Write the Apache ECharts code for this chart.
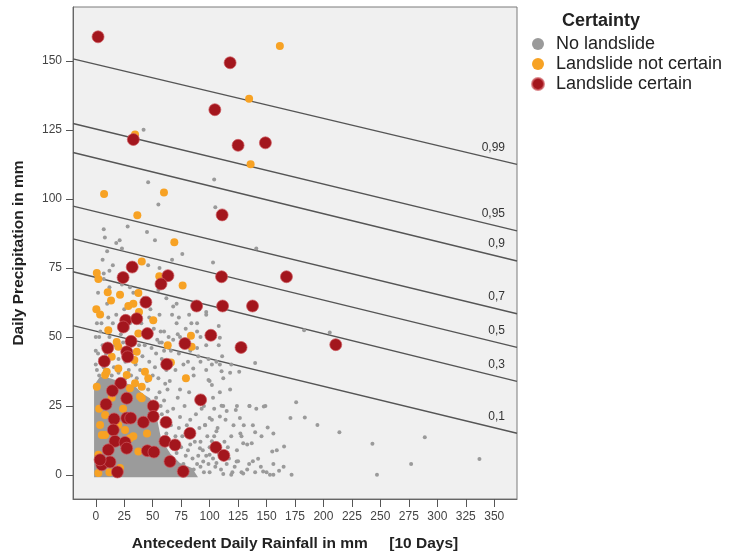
<!DOCTYPE html>
<html>
<head>
<meta charset="utf-8">
<script src="https://cdn.jsdelivr.net/npm/echarts@6/dist/echarts.min.js"></script>
<style>
  html, body { margin: 0; padding: 0; background: #fff; }
  #chart { width: 739px; height: 557px; }
</style>
</head>
<body>
<div id="chart"></div>
<script>
// 刻度
var xTicks = [0, 25, 50, 75, 100, 125, 150, 175, 200, 225, 250, 275, 300, 325, 350];
var yTicks = [0, 25, 50, 75, 100, 125, 150];

// 概率线 (x 从 -20 到 370)
var levels = ['0,99', '0,95', '0,9', '0,7', '0,5', '0,3', '0,1'];
var lineX = [-20, 370];
var lineStartY = [150.7, 127.3, 116.8, 97.4, 85.5, 73.6, 54.1];
var lineEndY = [112.5, 88.4, 77.5, 58.4, 46.2, 33.9, 15.1];

// 密集区轮廓 (No landslide)
var denseOutline = [
    [-1.5, -0.8], [-1.5, 32.5], [3.8, 35.7], [12.5, 35], [21.3, 33.9], [34.5, 32.1],
    [40.6, 29.6], [47.6, 27.8], [52, 24.2], [54.6, 18.8], [57.3, 13.3], [65.2, 7.9],
    [73.9, 4.3], [84.5, 2.5], [89.8, -0.8]
];

// No landslide 散点
var noLandslide = [
    [42, 125], [46, 106], [55, 98], [104, 107], [105, 97], [141, 82], [7, 89], [8, 86], [18, 84],
    [21, 85], [28, 90], [45, 88], [52, 85], [76, 80], [67, 78], [103, 77], [6, 78], [15, 76],
    [46, 76], [56, 75], [7, 73], [12, 74], [23, 82], [10, 81],
    [7, 71], [23, 69], [30, 68], [33, 66], [55, 67], [62, 64], [68, 61], [67, 58], [56, 58],
    [73, 57], [82, 58], [97, 58], [108, 54], [84, 55], [89, 52], [72, 51], [60, 52], [68, 49],
    [54, 49], [58, 48], [75, 48], [89, 46], [108, 47], [73, 44], [90, 43], [81, 41], [102, 40],
    [111, 43], [119, 40], [71, 62], [97, 59], [89, 55], [92, 50], [74, 50], [56, 48], [99, 42],
    [109, 40], [92, 41], [97, 38], [86, 36], [100, 34], [112, 35], [118, 31], [109, 30], [103, 28],
    [74, 31], [65, 34], [124, 25], [112, 25], [135, 25], [149, 25], [130, 18], [138, 18], [127, 15],
    [156, 15], [159, 9], [124, 9], [133, 11], [138, 5], [133, 2], [97, 7], [89, 4], [83, 11],
    [68, 24], [74, 21],
    [2, 60], [5, 55], [3, 50], [6, 47], [9, 44], [4, 42], [12, 50], [15, 55], [16, 39], [20, 42],
    [24, 48], [29, 38], [32, 44], [35, 40], [38, 47], [41, 43], [44, 38], [47, 41], [50, 36],
    [53, 44], [1, 38], [8, 36], [14, 36], [26, 35], [36, 35], [45, 34], [18, 58], [10, 62],
    [30, 55], [40, 55], [47, 57], [25, 60], [2, 66], [12, 68], [42, 64], [48, 60], [51, 53],
    [58, 42], [62, 38], [66, 45],
    [56, 30], [60, 27], [63, 23], [66, 18], [70, 14], [75, 10], [79, 7], [85, 6], [92, 3], [95, 1],
    [100, 1], [105, 3], [110, 2], [115, 4], [120, 1], [58, 22], [62, 15], [68, 10], [72, 28],
    [78, 25], [80, 18], [85, 15], [88, 22], [92, 12], [96, 18], [100, 10], [104, 14], [108, 8],
    [113, 12], [117, 6], [122, 3], [61, 33], [82, 30], [90, 28], [95, 25], [102, 20], [107, 17],
    [114, 20], [119, 14], [125, 5], [128, 1], [140, 1], [145, 3], [150, 1], [156, 4], [165, 3],
    [70, 2], [80, 1], [60, 5], [64, 2],
    [109, 49.7], [140, 40.6], [183, 52.4], [205.5, 51.6], [97, 47], [106, 41], [110.5, 37.6],
    [118, 37], [126, 37.4], [99, 34.4], [176, 26.3], [135, 25], [141, 24], [147.6, 24.8],
    [123, 23.5], [115, 23.2], [126.6, 20.6], [171, 20.6], [183.6, 20.8], [194.7, 18.1],
    [151, 17.2], [140, 15.5], [145.6, 14], [128, 14], [214, 15.5], [129.5, 11.5], [137, 11.5],
    [165.4, 10.3], [155, 8.5], [289, 13.7], [243, 11.3], [142.6, 5.9], [123.7, 4.9], [134.7, 4],
    [277, 4], [337, 5.8], [147, 1.3], [153, 0.1], [156, 0.1], [161, 1.5], [172, 0.1], [247, 0.1],
    [112, 0.4], [119, 0.1], [129.5, 0.5], [102, 32.6], [85.6, 38.6], [94.4, 28.4], [110.5, 25.1],
    [109, 21.2], [100, 20.6], [96, 18.1], [102, 12.2], [106, 15.8], [100, 7.3], [94.4, 4.9],
    [106, 4.3], [91.5, 9.7],
    [53, 28], [57, 25], [59, 19], [61, 11], [63, 8], [66, 5], [69, 12], [71, 8], [73, 17], [76, 14],
    [77, 4], [81, 9], [83, 20], [86, 2], [87, 12], [90, 7], [91, 17], [93, 24], [94, 9], [98, 14],
    [99, 4], [103, 6], [104, 24], [107, 11], [111, 6], [116, 10], [121, 18], [0, 40], [0, 45],
    [0, 50], [1, 55], [3, 36], [2, 44], [4, 52], [7, 39], [10, 40], [11, 57], [13, 45], [17, 47],
    [20, 37], [22, 51], [26, 41], [28, 53], [31, 36], [34, 49], [39, 38], [43, 47], [46, 31],
    [49, 46], [52, 39], [55, 35], [57, 52], [60, 45], [63, 31], [64, 50], [70, 38], [71, 55],
    [77, 40], [79, 53], [83, 45]
];

// Landslide not certain
var notCertain = [
    [161.7, 155.4], [134.7, 136.3], [34.5, 123.3], [136, 112.5], [7.3, 101.8], [59.9, 102.3],
    [36.5, 94.1], [69, 84.3], [40.4, 77.3], [0.9, 73.2], [55.8, 72], [2.3, 71], [76.3, 68.6],
    [10.5, 66.2], [21.3, 65.3], [37.4, 65.9], [13.4, 63.2], [28.6, 61.2], [33, 62], [3.8, 58.1],
    [38, 59], [50.5, 56], [11, 52.4], [37.4, 51.2], [83.6, 50.4], [18.4, 48.2], [63.2, 47],
    [84.2, 46.4], [19.8, 46.4], [36, 44.6], [14, 42.8], [33.9, 41.6], [79.2, 35], [8.2, 36.2],
    [0.9, 32], [9.6, 37.4], [19.8, 38.6], [30, 31.4], [40.4, 32], [46.1, 35], [38.9, 28.4],
    [8.2, 21.7], [3.8, 18.1], [19.8, 18.1], [8.2, 14.5], [33, 14], [37.4, 8.5], [2.3, 7.3],
    [21.3, 2.5], [2.3, 0.7], [27.2, 36.2], [43.2, 37.4], [34.5, 33.2], [40.4, 27.8], [25.7, 16.3],
    [30, 13.3], [5.3, 14.5], [66, 40.7], [0.5, 60], [3, 24], [14, 28], [24, 24], [45, 15], [12, 1]
];

// Landslide certain
var certain = [
    [2, 158.7], [118, 149.3], [104.6, 132.3], [33, 121.5], [125, 119.4], [149, 120.3], [111, 94.2],
    [32, 75.3], [63.4, 72.2], [110.5, 71.8], [167.5, 71.8], [24, 71.5], [57.3, 69.2], [44, 62.6],
    [88.6, 61.2], [111.4, 61.2], [137.7, 61.2], [26.3, 56], [36, 56.6], [24.2, 53.6], [45.3, 51.2],
    [101.1, 50.6], [31, 48.4], [78.3, 47.6], [10.5, 46], [27.2, 44.6], [28, 42.8], [7.5, 41.2],
    [62.3, 40.1], [127.6, 46.2], [210.8, 47.2], [21.9, 33.2], [14.6, 30.5], [27.2, 27.8], [9, 25.6],
    [92.1, 27.2], [50.5, 25], [50.5, 21.2], [16.1, 20.3], [27.2, 20.6], [30.7, 20.6], [41.8, 19.1],
    [61.7, 19.1], [15.4, 16.3], [82.7, 15.1], [16.9, 12.2], [25.7, 11.8], [60.8, 12.2], [69.6, 10.9],
    [105.5, 10], [27.2, 9.7], [11, 9.1], [45.3, 8.8], [51.1, 8.3], [112.5, 7.1], [65.2, 4.9],
    [5.3, 3.7], [12.5, 4.7], [3.8, 5.5], [19, 1.1], [76.8, 1.3]
];

var series = [];

// 密集区
series.push({
    type: 'custom',
    data: denseOutline,
    silent: true,
    clip: true,
    z: 1,
    renderItem: function (params, api) {
        if (params.dataIndex !== 0) return null;
        var pts = denseOutline.map(function (p) { return api.coord(p); });
        return {
            type: 'polygon',
            shape: { points: pts },
            style: { fill: '#9b9b9b' }
        };
    }
});

// 概率线
levels.forEach(function (lv, i) {
    series.push({
        type: 'line',
        data: [[lineX[0], lineStartY[i]], [lineX[1], lineEndY[i]]],
        showSymbol: false,
        silent: true,
        z: 2,
        lineStyle: { color: '#555', width: 1.4 },
        endLabel: {
            show: true,
            formatter: lv,
            distance: 0,
            align: 'right',
            offset: [-12, -17],
            color: '#333',
            fontSize: 12,
            fontFamily: 'Liberation Sans'
        }
    });
});

series.push({
    name: 'No landslide',
    type: 'scatter',
    data: noLandslide,
    symbolSize: 4,
    z: 3,
    itemStyle: { color: '#9a9a9a', opacity: 1 }
});
series.push({
    name: 'Landslide not certain',
    type: 'scatter',
    data: notCertain,
    symbolSize: 8,
    z: 4,
    itemStyle: { color: '#f7a224', opacity: 1 }
});
series.push({
    name: 'Landslide certain',
    type: 'scatter',
    data: certain,
    symbolSize: 12,
    z: 5,
    itemStyle: { color: '#a3161d', borderColor: 'rgba(205,90,95,0.7)', borderWidth: 1, opacity: 1 }
});

var option = {
    animation: false,
    backgroundColor: '#fff',
    textStyle: { fontFamily: 'Liberation Sans' },
    title: {
        text: 'Certainty',
        left: 557,
        top: 7,
        textStyle: { fontSize: 18, fontWeight: 'bold', color: '#222', fontFamily: 'Liberation Sans' }
    },
    legend: {
        data: ['No landslide', 'Landslide not certain', 'Landslide certain'],
        orient: 'vertical',
        left: 526,
        top: 30,
        itemWidth: 14,
        itemHeight: 12,
        itemGap: 2,
        icon: 'circle',
        textStyle: { fontSize: 18, color: '#222', padding: [0, 0, 0, 6], fontFamily: 'Liberation Sans' }
    },
    grid: {
        left: 73,
        right: 222,
        top: 7,
        bottom: 56,
        show: true,
        backgroundColor: '#f0f0f0',
        borderColor: '#7a7a7a',
        borderWidth: 1
    },
    xAxis: {
        type: 'value',
        min: -20,
        max: 370,
        name: 'Antecedent Daily Rainfall in mm     [10 Days]',
        nameLocation: 'middle',
        nameGap: 37,
        nameTextStyle: { fontSize: 15.5, fontWeight: 'bold', color: '#222' },
        axisLine: { show: true, onZero: false, lineStyle: { color: '#666' } },
        axisTick: { show: true, length: 8, customValues: xTicks, lineStyle: { color: '#555' } },
        axisLabel: { customValues: xTicks, margin: 12, fontSize: 12, color: '#444' },
        splitLine: { show: false }
    },
    yAxis: {
        type: 'value',
        min: -8.7,
        max: 169.5,
        name: 'Daily Precipitation in mm',
        nameLocation: 'middle',
        nameGap: 46,
        nameRotate: 90,
        nameTextStyle: { fontSize: 15.5, fontWeight: 'bold', color: '#222' },
        axisLine: { show: true, onZero: false, lineStyle: { color: '#666' } },
        axisTick: { show: true, length: 7, customValues: yTicks, lineStyle: { color: '#555' } },
        axisLabel: { customValues: yTicks, margin: 11, fontSize: 12, color: '#444' },
        splitLine: { show: false }
    },
    series: series
};

var myChart = echarts.init(document.getElementById('chart'));
myChart.setOption(option, true);
</script>
</body>
</html>
